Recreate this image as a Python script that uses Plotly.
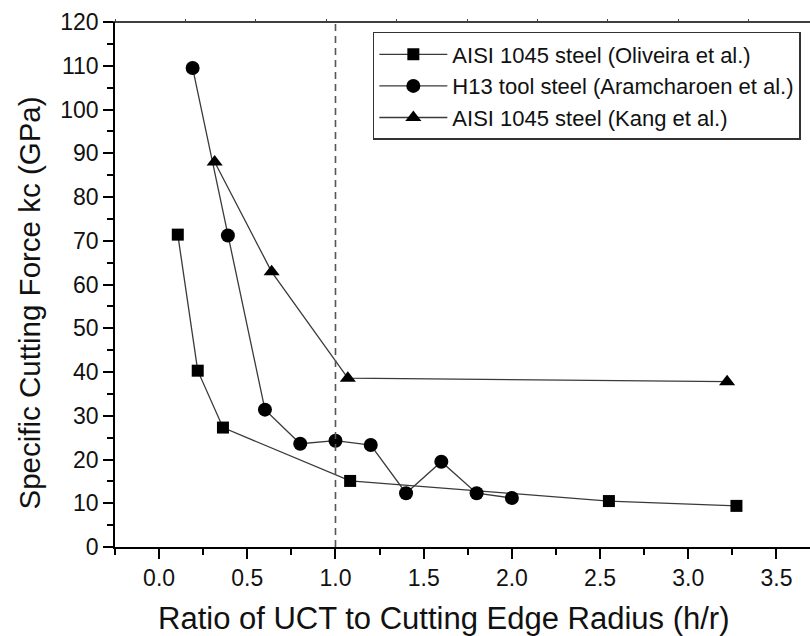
import plotly.graph_objects as go

# Specific cutting force vs. ratio of uncut chip thickness to edge radius
oliveira_x = [0.106, 0.219, 0.362, 1.083, 2.55, 3.273]
oliveira_y = [71.4, 40.3, 27.3, 15.1, 10.5, 9.4]

aramcharoen_x = [0.19, 0.39, 0.60, 0.80, 1.00, 1.20, 1.40, 1.60, 1.80, 2.00]
aramcharoen_y = [109.5, 71.2, 31.4, 23.6, 24.3, 23.3, 12.3, 19.5, 12.3, 11.2]

kang_x = [0.315, 0.638, 1.07, 3.22]
kang_y = [88.0, 62.9, 38.6, 37.8]

series_names = [
    "AISI 1045 steel (Oliveira et al.)",
    "H13 tool steel (Aramcharoen et al.)",
    "AISI 1045 steel (Kang et al.)",
]

x_ticks = [0.0, 0.5, 1.0, 1.5, 2.0, 2.5, 3.0, 3.5]
y_ticks = list(range(0, 121, 10))

x_title = "Ratio of UCT to Cutting Edge Radius (h/r)"
y_title = "Specific Cutting Force kc (GPa)"

FONT = "Liberation Sans, Arial, sans-serif"
LINE = "#3a3a3a"

fig = go.Figure()

for xs, ys, name, sym, size in [
    (oliveira_x, oliveira_y, series_names[0], "square", 12),
    (aramcharoen_x, aramcharoen_y, series_names[1], "circle", 14),
    (kang_x, kang_y, series_names[2], "triangle-up", 14),
]:
    fig.add_trace(go.Scatter(
        x=xs, y=ys, name=name, mode="lines+markers",
        line=dict(color=LINE, width=1.3),
        marker=dict(symbol=sym, size=size, color="black", line=dict(width=0)),
    ))

# invisible trace carrying the unlabeled top axis ticks
fig.add_trace(go.Scatter(x=[0], y=[0], xaxis="x2", mode="markers",
                         marker=dict(opacity=0), showlegend=False, hoverinfo="skip"))

# reference line at h/r = 1
fig.add_shape(type="line", xref="x", yref="y", x0=1.0, x1=1.0, y0=0, y1=120,
              line=dict(color="#555555", width=1.6, dash="7px,5px"))
# top frame line
fig.add_shape(type="line", xref="paper", yref="paper", x0=-0.016, x1=1.0, y0=1, y1=1,
              line=dict(color="black", width=1.5))

# axis titles
fig.add_annotation(text=x_title, xref="paper", yref="paper", x=0.472, y=-0.137,
                   xanchor="center", yanchor="middle", showarrow=False,
                   font=dict(size=31, family=FONT, color="#111111"))
fig.add_annotation(text=y_title, xref="paper", yref="paper", x=-0.1237, y=0.4638,
                   xanchor="center", yanchor="middle", showarrow=False, textangle=-90,
                   font=dict(size=29.5, family=FONT, color="#111111"))

fig.update_layout(
    width=810, height=636,
    margin=dict(l=115, r=0, t=22, b=89),
    paper_bgcolor="white", plot_bgcolor="white",
    font=dict(family=FONT, color="#111111"),
    showlegend=True,
    legend=dict(
        x=0.371, y=0.981, xanchor="left", yanchor="top",
        bgcolor="white", bordercolor="#333333", borderwidth=1.5,
        font=dict(size=22, family=FONT, color="#111111"),
        itemwidth=68, tracegroupgap=0,
    ),
    xaxis=dict(
        range=[-0.25, 3.69], tickvals=x_ticks,
        ticktext=[f"{v:.1f}" for v in x_ticks],
        ticks="outside", ticklen=10, tickwidth=1.5, tickcolor="black",
        minor=dict(dtick=0.25, tick0=0, ticks="outside", ticklen=6, tickwidth=1.5, tickcolor="black"),
        showline=True, linecolor="black", linewidth=1.5,
        showgrid=False, zeroline=False,
        tickfont=dict(size=23),
    ),
    xaxis2=dict(
        overlaying="x", side="top", range=[0, 9.87], dtick=1, tick0=0,
        ticks="outside", ticklen=2, tickwidth=1, tickcolor="#444444",
        showticklabels=False, showgrid=False, zeroline=False, showline=False,
    ),
    yaxis=dict(
        range=[0, 120], tickvals=y_ticks,
        ticks="outside", ticklen=10, tickwidth=1.5, tickcolor="black",
        minor=dict(dtick=5, tick0=0, ticks="outside", ticklen=6, tickwidth=1.5, tickcolor="black"),
        showline=True, linecolor="black", linewidth=1.5,
        showgrid=False, zeroline=False,
        tickfont=dict(size=23),
    ),
)

fig.write_html("out.html")
